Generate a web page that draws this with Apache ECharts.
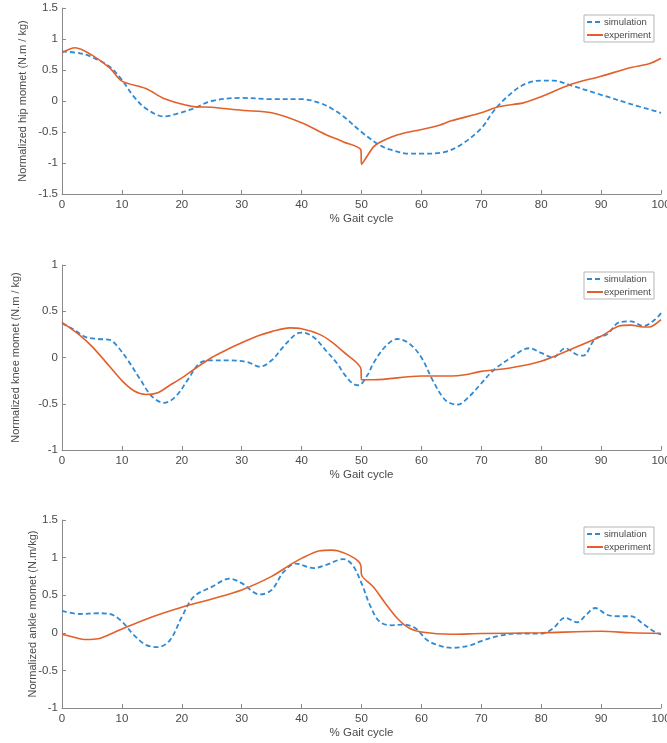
<!DOCTYPE html>
<html>
<head>
<meta charset="utf-8">
<script src="https://cdn.jsdelivr.net/npm/echarts@6/dist/echarts.min.js"></script>
<style>
  html, body { margin: 0; padding: 0; background: #fff; }
  #chart { width: 667px; height: 743px; }
</style>
</head>
<body>
<div id="chart"></div>
<script>
// % gait cycle vs normalized moment
var hipSimulation = [[0, 0.8], [3, 0.77], [5, 0.71], [8, 0.55], [10, 0.34], [12, 0.07], [14, -0.12], [17, -0.25], [19, -0.21],
  [22, -0.12], [25, 0.0], [30, 0.05], [35, 0.03], [40, 0.03], [43, -0.03], [45, -0.12], [47, -0.25], [50, -0.5], [53, -0.71],
  [55, -0.79], [58, -0.85], [60, -0.85], [64, -0.82], [67, -0.68], [70, -0.44], [72, -0.17], [74, 0.04], [77, 0.26],
  [80, 0.33], [82, 0.33], [85, 0.25], [90, 0.1], [95, -0.05], [100, -0.19]]
var hipExperiment = [[0, 0.78], [2.2, 0.86], [5, 0.74], [8, 0.53], [10, 0.32], [14, 0.2], [17, 0.04], [20, -0.05], [22, -0.09],
  [25, -0.1], [30, -0.15], [35, -0.19], [40, -0.35], [44, -0.54], [47, -0.66], [49.9, -0.79], [50, -1.02], [52, -0.74],
  [53, -0.67], [55, -0.58], [57, -0.52], [60, -0.46], [63, -0.39], [65, -0.32], [70, -0.19], [73, -0.09], [77, -0.03],
  [80, 0.07], [85, 0.27], [90, 0.4], [95, 0.54], [98, 0.6], [100, 0.69]]

var kneeSimulation = [[0, 0.37], [2, 0.3], [4, 0.22], [6, 0.2], [8, 0.19], [9, 0.14], [11, -0.03], [13, -0.23], [15, -0.42],
  [17, -0.49], [19, -0.42], [21, -0.24], [23, -0.06], [25, -0.03], [28, -0.03], [31, -0.05], [33, -0.1], [35, -0.03],
  [37, 0.12], [39, 0.25], [40, 0.27], [42, 0.22], [44, 0.08], [46, -0.07], [47, -0.17], [48.5, -0.28], [49.5, -0.3],
  [51, -0.19], [52, -0.06], [54, 0.12], [56, 0.2], [58, 0.15], [60, 0.0], [62, -0.26], [64, -0.46], [66, -0.51],
  [68, -0.42], [70, -0.28], [72, -0.14], [75, 0.0], [78, 0.1], [80, 0.05], [82, 0.0], [84, 0.1], [86, 0.03], [87, 0.02],
  [89, 0.2], [91, 0.25], [93, 0.38], [95, 0.39], [97, 0.34], [99, 0.41], [100, 0.48]]
var kneeExperiment = [[0, 0.38], [3, 0.24], [5, 0.12], [8, -0.1], [10, -0.25], [12, -0.36], [14, -0.4], [16, -0.38],
  [18, -0.3], [20, -0.22], [22, -0.13], [25, 0.0], [28, 0.1], [30, 0.16], [33, 0.24], [35, 0.28], [38, 0.32], [40, 0.31],
  [43, 0.25], [45, 0.17], [47, 0.06], [49.9, -0.12], [50, -0.24], [52, -0.24], [60, -0.2], [65, -0.2], [67, -0.19],
  [70, -0.15], [75, -0.11], [80, -0.04], [85, 0.09], [90, 0.23], [93, 0.34], [95, 0.35], [97, 0.33], [98, 0.33], [100, 0.41]]

var ankleSimulation = [[0, 0.29], [3, 0.25], [6, 0.26], [8, 0.25], [10, 0.15], [12, -0.03], [14, -0.16], [16, -0.19],
  [18, -0.1], [20, 0.21], [22, 0.48], [25, 0.61], [28, 0.72], [30, 0.66], [33, 0.51], [35, 0.57], [37, 0.81], [39, 0.92],
  [42, 0.86], [44, 0.9], [47, 0.98], [48.5, 0.9], [50, 0.66], [51.5, 0.35], [53, 0.15], [55, 0.1], [57, 0.11], [59, 0.06],
  [61, -0.1], [63, -0.17], [65, -0.2], [68, -0.17], [70, -0.11], [73, -0.04], [76, -0.01], [80, -0.01], [82, 0.06],
  [84, 0.2], [86, 0.14], [87.5, 0.24], [89, 0.33], [91, 0.24], [93, 0.22], [95, 0.22], [97, 0.12], [99, 0.01], [100, -0.02]]
var ankleExperiment = [[0, -0.02], [2, -0.06], [4, -0.09], [6, -0.08], [8, -0.02], [10, 0.05], [15, 0.21], [20, 0.34],
  [25, 0.45], [30, 0.57], [35, 0.75], [38, 0.9], [40, 0.99], [43, 1.09], [45, 1.1], [46, 1.09], [48, 1.03], [49.5, 0.95],
  [49.9, 0.89], [50, 0.77], [52, 0.61], [54, 0.39], [56, 0.19], [58, 0.06], [60, 0.01], [65, -0.02], [70, -0.01],
  [80, 0.0], [90, 0.02], [95, 0.0], [100, -0.01]]

var yNames = ['Normalized hip momet (N.m / kg)', 'Normalized knee momet (N.m / kg)', 'Normalized ankle momet (N.m/kg)']
var yMin = [-1.5, -1, -1]
var yMax = [1.5, 1, 1.5]

var blue = '#2f8ad6'
var orange = '#e2612a'
var axisColor = '#8a8a8a'
var textColor = '#4a4a4a'
var font = 'Liberation Sans'

var tops = [8, 265, 520]
var heights = [186, 185, 188]
var nameGaps = [34, 41, 24]

var grids = []
var xAxes = []
var yAxes = []
var legends = []
for (var i = 0; i < 3; i++) {
  grids.push({ left: 62, right: 6, top: tops[i], height: heights[i], containLabel: false, outerBoundsMode: 'none' })
  xAxes.push({
    type: 'value', gridIndex: i, min: 0, max: 100, interval: 10,
    name: '% Gait cycle', nameLocation: 'middle', nameGap: 19, nameMoveOverlap: false,
    nameTextStyle: { color: textColor, fontSize: 11.5, fontFamily: font },
    axisLine: { onZero: false, lineStyle: { color: axisColor, width: 1 } },
    axisTick: { inside: true, length: 4, lineStyle: { color: axisColor } },
    axisLabel: { color: textColor, fontSize: 11.5, fontFamily: font, margin: 5, hideOverlap: false },
    splitLine: { show: false }
  })
  yAxes.push({
    type: 'value', gridIndex: i, min: yMin[i], max: yMax[i], interval: 0.5,
    name: yNames[i], nameLocation: 'middle', nameGap: nameGaps[i], nameMoveOverlap: false,
    nameTextStyle: { color: textColor, fontSize: 11, fontFamily: font },
    axisLine: { show: true, onZero: false, lineStyle: { color: axisColor, width: 1 } },
    axisTick: { show: true, inside: true, length: 4, lineStyle: { color: axisColor } },
    axisLabel: { color: textColor, fontSize: 11.5, fontFamily: font, margin: 4 },
    splitLine: { show: false }
  })
  legends.push({
    orient: 'vertical', right: 13, top: tops[i] + 7,
    data: ['simulation', 'experiment'],
    itemWidth: 16, itemHeight: 8, itemGap: 3,
    padding: [2, 3, 2, 2],
    borderColor: '#b5b5b5', borderWidth: 1,
    itemStyle: { opacity: 0 },
    textStyle: { color: textColor, fontSize: 9.5, fontFamily: font, padding: [0, 0, 0, -4] }
  })
}

function simSeries (data, idx) {
  return {
    name: 'simulation', type: 'line', xAxisIndex: idx, yAxisIndex: idx,
    data: data, smooth: 0.35, symbol: 'none',
    lineStyle: { color: blue, width: 1.8, type: [5, 3] },
    itemStyle: { color: blue }
  }
}
function expSeries (data, idx) {
  return {
    name: 'experiment', type: 'line', xAxisIndex: idx, yAxisIndex: idx,
    data: data, smooth: 0.3, symbol: 'none',
    lineStyle: { color: orange, width: 1.6 },
    itemStyle: { color: orange }
  }
}

var myChart = echarts.init(document.getElementById('chart'))
myChart.setOption({
  animation: false,
  backgroundColor: '#fff',
  grid: grids,
  xAxis: xAxes,
  yAxis: yAxes,
  legend: legends,
  series: [
    simSeries(hipSimulation, 0), expSeries(hipExperiment, 0),
    simSeries(kneeSimulation, 1), expSeries(kneeExperiment, 1),
    simSeries(ankleSimulation, 2), expSeries(ankleExperiment, 2)
  ]
})
</script>
</body>
</html>
